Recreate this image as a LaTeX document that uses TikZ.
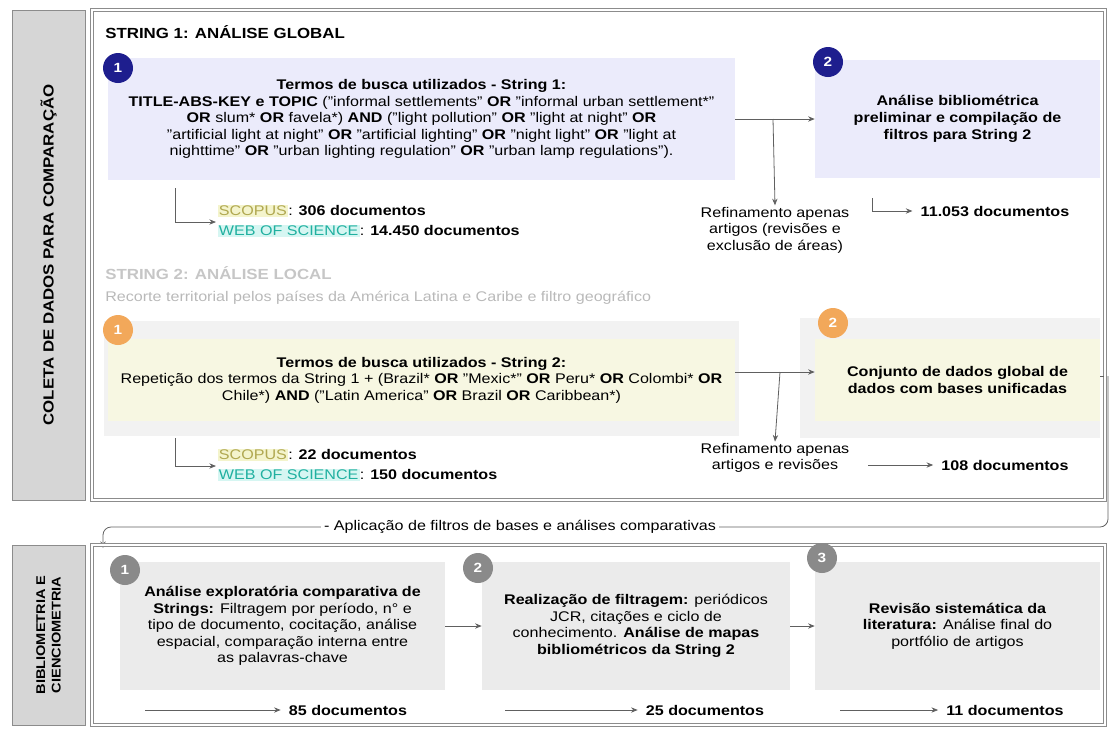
\documentclass[tikz,border=0pt]{standalone}
\usepackage{fontspec}
\setmainfont{Liberation Sans}[FakeStretch=1.15]
\usetikzlibrary{arrows.meta,calc}
\definecolor{lav}{HTML}{EBEBFB}
\definecolor{ylw}{HTML}{F7F7E2}
\definecolor{lane}{HTML}{F2F2F2}
\definecolor{gbox}{HTML}{EBEBEB}
\definecolor{side}{HTML}{D6D6D6}
\definecolor{navy}{HTML}{1E1E8E}
\definecolor{orng}{HTML}{F2A85A}
\definecolor{gcirc}{HTML}{8A8A8A}
\definecolor{frame}{HTML}{8C8C8C}
\definecolor{scop}{HTML}{B0A850}
\definecolor{scopbg}{HTML}{F4F4CC}
\definecolor{wos}{HTML}{20B0A0}
\definecolor{wosbg}{HTML}{D6F6F2}
\newcommand{\hl}[3]{{\setlength{\fboxsep}{1pt}\colorbox{#2}{\textcolor{#1}{#3}}}}
\begin{document}
\begin{tikzpicture}[x=0.75pt,y=-0.75pt,
  font=\fontsize{10.5}{12.4}\selectfont,
  conn/.style={draw=gray!75!black, line width=0.6pt, -{Stealth[length=5pt,width=4pt]}},
  plain/.style={draw=gray!75!black, line width=0.6pt},
  box/.style={inner sep=0pt, align=center},
  num/.style={circle, minimum size=22.5pt, inner sep=0pt, text=white, font=\fontsize{10}{12}\selectfont\bfseries},
  sidebar/.style={fill=side, draw=frame, line width=0.6pt},
  panel/.style={draw=frame, line width=0.5pt, double=white, double distance=1.5pt},
  txt/.style={inner sep=1pt, align=center},
  doc/.style={inner ysep=1pt, inner xsep=6pt, align=left, font=\fontsize{10.5}{12.4}\selectfont\bfseries}]
\useasboundingbox (0,0) rectangle (1110,729);

% ---------- top panel ----------
\node[sidebar, minimum width=73*0.75pt, minimum height=490*0.75pt] (side1) at (48.5,255) {};
\node[rotate=90, font=\fontsize{11}{13}\selectfont\bfseries] (side1t) at (side1.center) {COLETA DE DADOS PARA COMPARAÇÃO};
\node[panel, minimum width=1013*0.75pt, minimum height=490*0.75pt] (panel1) at (598.5,255) {};

\node[anchor=west, inner sep=0pt, font=\fontsize{11}{12}\selectfont\bfseries] (h1) at (105,32) {STRING 1: ANÁLISE GLOBAL};

\node[box, fill=lav, minimum width=627*0.75pt, minimum height=122*0.75pt] (b1) at (421.5,119)
{{\bfseries Termos de busca utilizados - String 1:}\\
{\bfseries TITLE-ABS-KEY e TOPIC} ("informal settlements" {\bfseries OR} "informal urban settlement*"\\
{\bfseries OR} slum* {\bfseries OR} favela*) {\bfseries AND} ("light pollution" {\bfseries OR} "light at night" {\bfseries OR}\\
"artificial light at night" {\bfseries OR} "artificial lighting" {\bfseries OR} "night light" {\bfseries OR} "light at\\
nighttime" {\bfseries OR} "urban lighting regulation" {\bfseries OR} "urban lamp regulations").};
\node[num, fill=navy] (c1) at (118,68) {1};

\node[box, fill=lav, minimum width=285*0.75pt, minimum height=118*0.75pt, font=\fontsize{10.5}{12.6}\selectfont\bfseries] (b2) at (957.5,119)
{Análise bibliométrica\\ preliminar e compilação de\\ filtros para String 2};
\node[num, fill=navy] (c2) at (828,62) {2};

\coordinate (j1) at (773,119);
\draw[conn] (b1.east) -- (b2.west);
\node[txt] (r1) at (775,230) {Refinamento apenas\\ artigos (revisões e\\ exclusão de áreas)};
\draw[conn] (j1) -- (r1.north);

\node[doc] (d2) at (995,211) {11.053 documentos};
\coordinate (e2) at (872,198);
\draw[conn] (e2) |- (d2.west);

\node[txt, anchor=west, align=left] (s1) at (216,211) {\hl{scop}{scopbg}{SCOPUS}: {\bfseries 306 documentos}};
\node[txt, anchor=west, align=left] (w1) at (216,231) {\hl{wos}{wosbg}{WEB OF SCIENCE}: {\bfseries 14.450 documentos}};
\coordinate (e1) at (175,188);
\coordinate (e1b) at (175,222);
\draw[plain] (e1) -- (e1b);
\draw[conn] (e1b) -- (e1b -| s1.west);

% string 2 heading
\node[anchor=west, inner sep=0pt, text=gray!45, font=\fontsize{11}{12}\selectfont\bfseries] (h2) at (105,273) {STRING 2: ANÁLISE LOCAL};
\node[anchor=west, inner sep=0pt, text=gray!55] (h2b) at (105,298) {Recorte territorial pelos países da América Latina e Caribe e filtro geográfico};

\node[fill=lane, minimum width=635*0.75pt, minimum height=115*0.75pt, inner sep=0pt] (lane3) at (421.5,378) {};
\node[fill=lane, minimum width=300*0.75pt, minimum height=120*0.75pt, inner sep=0pt] (lane4) at (950,378) {};
\node[box, fill=ylw, minimum width=627*0.75pt, minimum height=82*0.75pt] (b3) at (421.5,380)
{{\bfseries Termos de busca utilizados - String 2:}\\
Repetição dos termos da String 1 + (Brazil* {\bfseries OR} "Mexic*" {\bfseries OR} Peru* {\bfseries OR} Colombi* {\bfseries OR}\\
Chile*) {\bfseries AND} ("Latin America" {\bfseries OR} Brazil {\bfseries OR} Caribbean*)};
\node[num, fill=orng] (c3) at (118,330) {1};

\node[box, fill=ylw, minimum width=285*0.75pt, minimum height=82*0.75pt, font=\fontsize{10.5}{12.6}\selectfont\bfseries] (b4) at (957.5,380)
{Conjunto de dados global de\\ dados com bases unificadas};
\node[num, fill=orng] (c4) at (833,323) {2};

\coordinate (j3) at (780,372);
\draw[conn] (b3.east |- j3) -- (b4.west |- j3);
\node[txt] (r2) at (775,458) {Refinamento apenas\\ artigos e revisões};
\draw[conn] (j3) -- (r2.north);
\node[doc] (d4) at (1005,465) {108 documentos};
\coordinate (g4) at (868,465);
\draw[conn] (g4) -- (d4.west);

\node[txt, anchor=west, align=left] (s3) at (216,455) {\hl{scop}{scopbg}{SCOPUS}: {\bfseries 22 documentos}};
\node[txt, anchor=west, align=left] (w3) at (216,475) {\hl{wos}{wosbg}{WEB OF SCIENCE}: {\bfseries 150 documentos}};
\coordinate (e3) at (175,438);
\coordinate (e3b) at (175,466);
\draw[plain] (e3) -- (e3b);
\draw[conn] (e3b) -- (e3b -| s3.west);

% ---------- link between panels ----------
\coordinate (k1) at (1108,376);
\coordinate (k2) at (1108,527);
\coordinate (k3) at (103,527);
\coordinate (k4) at (103,548);
\draw[plain, dashed] (b4.east |- k1) -- (k1);
\draw[conn, rounded corners=6pt] (k1) -- (k2) -- (k3) -- (k4);
\node[fill=white, inner sep=2pt] (lab) at (520,527) {- Aplicação de filtros de bases e análises comparativas};

% ---------- bottom panel ----------
\node[sidebar, minimum width=73*0.75pt, minimum height=180*0.75pt] (side2) at (48.5,635) {};
\node[rotate=90, align=center, font=\fontsize{9.5}{11.5}\selectfont\bfseries] (side2t) at (side2.center) {BIBLIOMETRIA E\\ CIENCIOMETRIA};
\node[panel, minimum width=1013*0.75pt, minimum height=180*0.75pt] (panel2) at (598.5,635) {};

\node[box, fill=gbox, minimum width=325*0.75pt, minimum height=128*0.75pt] (b5) at (282.5,626)
{{\bfseries Análise exploratória comparativa de}\\ {\bfseries Strings:} Filtragem por período, n° e\\ tipo de documento, cocitação, análise\\ espacial, comparação interna entre\\ as palavras-chave};
\node[num, fill=gcirc] (c5) at (125,570) {1};

\node[box, fill=gbox, minimum width=308*0.75pt, minimum height=128*0.75pt] (b6) at (636,626)
{{\bfseries Realização de filtragem:} periódicos\\ JCR, citações e ciclo de\\ conhecimento. {\bfseries Análise de mapas}\\ {\bfseries bibliométricos da String 2}};
\node[num, fill=gcirc] (c6) at (478,568) {2};

\node[box, fill=gbox, minimum width=285*0.75pt, minimum height=128*0.75pt] (b7) at (957.5,626)
{{\bfseries Revisão sistemática da}\\ {\bfseries literatura:} Análise final do\\ portfólio de artigos};
\node[num, fill=gcirc] (c7) at (822,558) {3};

\draw[conn] (b5.east) -- (b6.west);
\draw[conn] (b6.east) -- (b7.west);

\node[doc] (d5) at (348,710) {85 documentos};
\node[doc] (d6) at (705,710) {25 documentos};
\node[doc] (d7) at (1005,710) {11 documentos};
\coordinate (f5) at (145,710);
\coordinate (f6) at (505,710);
\coordinate (f7) at (840,710);
\draw[conn] (f5) -- (d5.west);
\draw[conn] (f6) -- (d6.west);
\draw[conn] (f7) -- (d7.west);
\end{tikzpicture}
\end{document}
